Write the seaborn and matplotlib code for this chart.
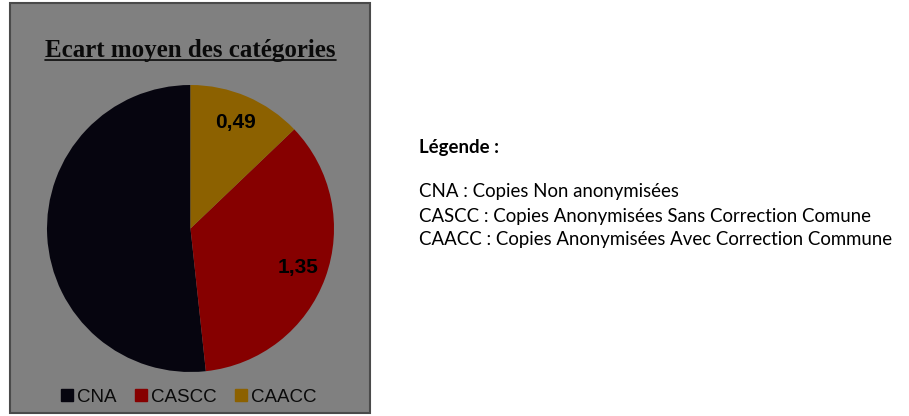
import matplotlib
matplotlib.use("Agg")
import matplotlib.pyplot as plt
import matplotlib.patches as mpatches
import seaborn as sns

# data
categories = ["CNA", "CASCC", "CAACC"]
ecarts = [1.97, 1.35, 0.49]
slice_colors = ["#06050f", "#860000", "#8c6100"]
label_colors = ["#06050f", "#000000", "#000000"]

legend_title = "Légende :"
legend_lines = [
    "CNA : Copies Non anonymisées",
    "CASCC : Copies Anonymisées Sans Correction Comune",
    "CAACC : Copies Anonymisées Avec Correction Commune",
]

sns.set_theme(style="white")
plt.rcParams["font.family"] = ["Liberation Sans", "DejaVu Sans"]

W, H = 909, 416
fig = plt.figure(figsize=(W / 100, H / 100), dpi=100)
fig.patch.set_facecolor("white")

# grey chart panel (behind everything)
panel = mpatches.Rectangle((10 / W, 3 / H), 360 / W, 410 / H, transform=fig.transFigure,
                           facecolor="#808080", edgecolor="#4a4a4a", linewidth=1.5,
                           zorder=-10)
fig.patches.append(panel)

# title with underline
fig.text(190.5 / W, 1 - 50 / H, "Ecart moyen des catégories", ha="center", va="center",
         fontsize=18, fontweight="bold", family=["Liberation Serif"], color="#0a0a0a")
fig.add_artist(plt.Line2D([45 / W, 336 / W], [1 - 60 / H, 1 - 60 / H],
                          transform=fig.transFigure, color="#0a0a0a", lw=1.2))

# pie
cx, cy, r = 190.5, 228.5, 143.5
ax = fig.add_axes([(cx - r) / W, (H - cy - r) / H, 2 * r / W, 2 * r / H])
ax.set_zorder(5)
total = sum(ecarts)
wedges, texts, autotexts = ax.pie(
    ecarts, colors=slice_colors, startangle=90, counterclock=True,
    autopct=lambda p: f"{p * total / 100:.2f}".replace(".", ","),
    pctdistance=0.8, radius=1,
    textprops=dict(fontsize=15, fontweight="bold"),
    wedgeprops=dict(linewidth=0),
)
for t, c in zip(autotexts, label_colors):
    t.set_color(c)
ax.set_xlim(-1, 1)
ax.set_ylim(-1, 1)
ax.set_aspect("equal")
ax.axis("off")

handles = [mpatches.Patch(color=c, label=l) for c, l in zip(slice_colors, categories)]
fig.legend(handles=handles, loc="center", bbox_to_anchor=(189 / W, 1 - 397 / H), ncol=3,
           frameon=False, fontsize=13.5, handlelength=0.64, handleheight=0.64,
           handletextpad=0.2, columnspacing=1.0, labelcolor="#0a0a0a")

# explanation text on the right
fig.text(419 / W, 1 - 148 / H, legend_title, ha="left", va="center", fontsize=13.4,
         fontweight="bold", family=["Lato", "DejaVu Sans"], color="black")
for i, line in enumerate(legend_lines):
    fig.text(419 / W, 1 - (192 + 24 * i) / H, line, ha="left", va="center", fontsize=13.4,
             family=["Lato", "DejaVu Sans"], color="black")

fig.savefig("out.png", dpi=100)
